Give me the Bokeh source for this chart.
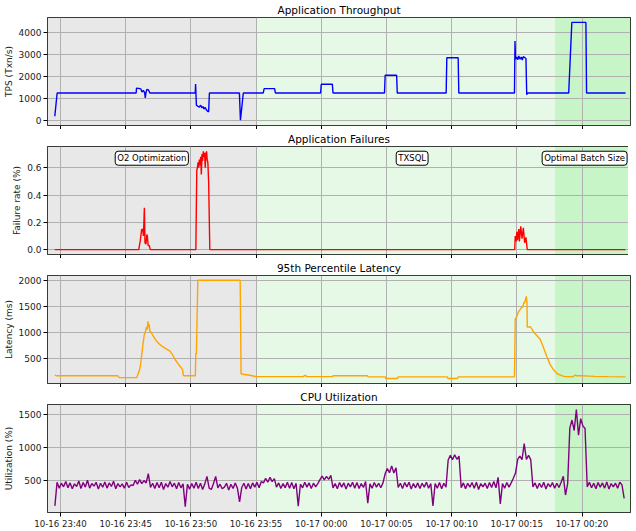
import datetime as dt
from bokeh.plotting import figure
from bokeh.models import (ColumnDataSource, BoxAnnotation, Label, FixedTicker,
                          DatetimeTickFormatter, Range1d, PrintfTickFormatter)
from bokeh.layouts import column
from bokeh.embed import file_html
from bokeh.resources import INLINE

# ---------------- data ----------------
# time reference (all minute offsets below are relative to this)
base_time = "2023-10-16 23:40:00"

# Application Throughput (TPS): minute offsets and values
tps_t = [-0.44, -0.26, 5.8, 5.83, 6.0, 6.15, 6.25, 6.35, 6.45, 6.5, 6.56, 6.62, 6.75, 6.85,
         10.33, 10.36, 10.42, 10.55, 10.65, 10.75, 10.85, 10.95, 11.0, 11.1, 11.2, 11.3, 11.36, 11.42,
         13.72, 13.8, 14.02, 15.55, 15.62, 16.42, 16.48, 19.95, 20.0, 20.85, 20.9,
         24.85, 24.9, 25.78, 25.83, 29.58, 29.63, 30.5, 30.55,
         34.82, 34.86, 34.9, 35.0, 35.08, 35.15, 35.25, 35.35, 35.42, 35.5, 35.6, 35.7, 35.76, 35.8,
         38.98, 39.22, 40.3, 40.35, 43.34]
tps_v = [200, 1260, 1260, 1480, 1470, 1450, 1300, 1380, 1280, 1030, 1300, 1420, 1400, 1260,
         1260, 1670, 700, 650, 620, 700, 580, 640, 520, 600, 480, 420, 400, 1260,
         1260, 20, 1260, 1260, 1460, 1460, 1260, 1260, 1660, 1660, 1260,
         1260, 2070, 2070, 1260, 1260, 2870, 2870, 1260,
         1260, 3630, 2800, 2900, 2780, 2950, 2800, 2900, 2760, 2920, 2880, 2830, 1180, 1260,
         1260, 4480, 4480, 1260, 1260]

# Application Failures (%)
fail_t = [-0.44, 6.0, 6.12, 6.22, 6.3, 6.36, 6.43, 6.48, 6.55, 6.62, 6.66, 6.72, 6.8, 6.89,
          10.38, 10.45, 10.5, 10.55, 10.6, 10.65, 10.7, 10.75, 10.8, 10.85, 10.9, 10.95, 11.0,
          11.05, 11.1, 11.15, 11.2, 11.25, 11.3, 11.36, 11.45,
          34.84, 34.88, 34.95, 35.0, 35.05, 35.15, 35.2, 35.3, 35.4, 35.5, 35.6, 35.7, 35.8, 43.34]
fail_v = [0.0, 0.0, 0.067, 0.147, 0.15, 0.1, 0.306, 0.05, 0.04, 0.11, 0.1, 0.03, 0.03, 0.0,
          0.0, 0.58, 0.6, 0.64, 0.6, 0.66, 0.62, 0.68, 0.55, 0.7, 0.65, 0.72, 0.68,
          0.71, 0.6, 0.7, 0.72, 0.66, 0.64, 0.5, 0.0,
          0.0, 0.1, 0.06, 0.13, 0.07, 0.15, 0.06, 0.17, 0.08, 0.16, 0.05, 0.09, 0.0, 0.0]

# 95th Percentile Latency (ms)
lat_t = [-0.44, -0.3, 4.4, 4.5, 5.85, 5.95, 6.05, 6.12, 6.22, 6.32, 6.42, 6.5, 6.6, 6.66, 6.7,
         6.76, 6.8, 6.86, 6.94, 7.1, 7.27, 7.5, 7.78, 8.1, 8.42, 8.55, 8.8, 9.0, 9.18, 9.36,
         9.42, 9.5, 10.34, 10.38, 10.42, 10.53, 13.78, 13.85, 14.0, 14.5, 15.0, 18.6, 18.76,
         18.9, 20.87, 20.9, 23.55, 23.6, 24.9, 24.95, 25.85, 25.9, 29.68, 29.72, 30.44, 30.5,
         34.82, 34.88, 35.0, 35.1, 35.2, 35.3, 35.4, 35.45, 35.55, 35.6, 35.68, 35.73, 35.78,
         35.8, 36.06, 36.3, 36.55, 36.8, 37.05, 37.3, 37.55, 37.83, 38.1, 38.35, 38.6, 39.0,
         39.3, 39.5, 39.6, 40.0, 40.5, 41.0, 42.0, 43.34]
lat_v = [175, 160, 160, 125, 125, 200, 260, 340, 550, 760, 950, 1000, 1100, 1050, 1210,
         1100, 1150, 1010, 1000, 930, 860, 790, 730, 680, 630, 580, 470, 400, 340, 280,
         170, 160, 160, 600, 580, 2000, 2000, 200, 190, 170, 145, 145, 170,
         145, 145, 160, 160, 140, 140, 107, 107, 140, 140, 107, 107, 140,
         140, 1250, 1300, 1380, 1420, 1450, 1500, 1480, 1580, 1560, 1650, 1690, 1580,
         1100, 1100, 1000, 930, 860, 700, 530, 380, 270, 200, 175, 150, 145,
         140, 175, 160, 160, 155, 150, 145, 140]

# CPU Utilization (%), one sample every 10 s starting at cpu_start
cpu_start = "2023-10-16 23:39:34"
cpu_step_s = 10
cpu_v = [110, 470, 380, 455, 400, 480,
         385, 460, 370, 445, 405, 490,
         375, 465, 395, 500, 380, 450,
         410, 470, 365, 455, 395, 475,
         380, 460, 405, 485, 370, 450,
         400, 445, 380, 470, 390, 430,
         420, 500, 440, 510, 450, 495,
         460, 600, 390, 455, 375, 465,
         385, 470, 360, 450, 395, 480,
         400, 455, 370, 465, 385, 445,
         95, 440, 365, 450, 380, 470,
         375, 455, 360, 445, 560, 380,
         360, 450, 560, 385, 440, 370,
         395, 455, 350, 440, 375, 460,
         380, 170, 390, 455, 365, 450,
         370, 460, 395, 470, 385, 480,
         460, 530, 470, 545, 480, 525,
         395, 460, 375, 450, 385, 470,
         380, 465, 370, 455, 105, 440,
         385, 470, 395, 460, 375, 455,
         400, 450, 510, 565, 505, 560,
         515, 575, 385, 450, 370, 465,
         395, 460, 365, 455, 400, 470,
         380, 465, 375, 450, 390, 480,
         150, 445, 380, 465, 395, 455,
         385, 460, 600, 680, 615, 720,
         610, 690, 390, 455, 375, 465,
         400, 470, 365, 450, 385, 460,
         375, 455, 395, 470, 380, 450,
         110, 450, 380, 465, 370, 455,
         395, 810, 880, 815, 890, 820,
         870, 385, 460, 370, 455, 395,
         465, 380, 470, 360, 450, 400,
         455, 375, 465, 390, 480, 385,
         545, 140, 450, 380, 465, 395,
         460, 530, 610, 820, 870, 815,
         1060, 820, 880, 815, 400, 460,
         375, 455, 390, 470, 365, 450,
         400, 465, 380, 455, 390, 470,
         560, 275, 450, 1300, 1420, 1260,
         1580, 1190, 1440, 1330, 1290, 400,
         470, 385, 455, 370, 465, 395,
         460, 380, 475, 365, 450, 400,
         455, 380, 470, 430, 223]

# phases (shaded spans) and annotations
phase_edges = ["2023-10-16 23:55:00", "2023-10-17 00:17:56"]
phase_colors = ["#e8e8e8", "#e6f8e6", "#c7f5c7"]
phase_labels = ["O2 Optimization", "TXSQL", "Optimal Batch Size"]
phase_label_t = [7.0, 26.97, 40.2]
phase_label_y = 0.67

x_ticks = ["2023-10-16 23:40", "2023-10-16 23:45", "2023-10-16 23:50", "2023-10-16 23:55",
           "2023-10-17 00:00", "2023-10-17 00:05", "2023-10-17 00:10", "2023-10-17 00:15",
           "2023-10-17 00:20"]
x_limits_t = [-1.0, 43.72]

# ---------------- helpers ----------------
EPOCH = dt.datetime(1970, 1, 1)
base = dt.datetime.strptime(base_time, "%Y-%m-%d %H:%M:%S")


def ms_dt(d):
    return (d - EPOCH).total_seconds() * 1000.0


def ms_off(m):
    return ms_dt(base + dt.timedelta(minutes=m))


def ms_str(s, fmt="%Y-%m-%d %H:%M:%S"):
    return ms_dt(dt.datetime.strptime(s, fmt))


cpu0 = dt.datetime.strptime(cpu_start, "%Y-%m-%d %H:%M:%S")
cpu_t_ms = [ms_dt(cpu0 + dt.timedelta(seconds=i * cpu_step_s)) for i in range(len(cpu_v))]

xr = Range1d(ms_off(x_limits_t[0]), ms_off(x_limits_t[1]))
tick_ms = [ms_str(s, "%Y-%m-%d %H:%M") for s in x_ticks]
edges_ms = [ms_str(s) for s in phase_edges]

FONT = "DejaVu Sans"


def make_fig(title, ylabel, yr, yticks, show_xlabels, frame_h):
    p = figure(x_axis_type="datetime", x_range=xr, y_range=Range1d(*yr),
               frame_width=583, frame_height=frame_h,
               min_border_left=41, min_border_right=4, min_border_top=0, min_border_bottom=0,
               toolbar_location=None, output_backend="svg", title=title)
    p.title.text_font = FONT
    p.title.text_font_size = "10.5px"
    p.title.text_font_style = "normal"
    p.title.align = "center"
    p.title.text_color = "black"
    p.title.standoff = 3
    p.outline_line_color = "black"
    p.outline_line_width = 1
    p.outline_line_alpha = 1
    p.background_fill_color = "white"
    for ax in p.axis:
        ax.axis_line_color = None
        ax.major_tick_out = 4
        ax.major_tick_in = 0
        ax.minor_tick_out = 0
        ax.minor_tick_in = 0
        ax.major_tick_line_color = "black"
        ax.major_label_text_font = FONT
        ax.major_label_text_font_size = "9px"
        ax.major_label_text_color = "#222222"
    p.yaxis.ticker = FixedTicker(ticks=yticks)
    p.yaxis.axis_label = ylabel
    p.yaxis.axis_label_text_font = FONT
    p.yaxis.axis_label_text_font_size = "9px"
    p.yaxis.axis_label_text_font_style = "normal"
    p.yaxis.axis_label_text_color = "#222222"
    p.yaxis.axis_label_standoff = 2
    p.yaxis.major_label_standoff = 2
    p.xaxis.ticker = FixedTicker(ticks=tick_ms)
    p.xaxis.formatter = DatetimeTickFormatter(
        seconds="%m-%d %H:%M", minsec="%m-%d %H:%M", minutes="%m-%d %H:%M",
        hourmin="%m-%d %H:%M", hours="%m-%d %H:%M", days="%m-%d %H:%M")
    if show_xlabels:
        p.xaxis.major_label_standoff = 2
        p.xaxis.major_label_text_font_size = "8.6px"
    else:
        p.xaxis.major_label_overrides = {t: "" for t in tick_ms}
        p.xaxis.major_label_text_font_size = "0px"
        p.xaxis.major_label_standoff = 0
    p.grid.grid_line_color = "#b0b0b0"
    p.grid.grid_line_width = 1
    # shaded phases, below grid
    p.add_layout(BoxAnnotation(right=edges_ms[0], fill_color=phase_colors[0], fill_alpha=1,
                               line_alpha=0, level="image"))
    p.add_layout(BoxAnnotation(left=edges_ms[0], right=edges_ms[1], fill_color=phase_colors[1],
                               fill_alpha=1, line_alpha=0, level="image"))
    p.add_layout(BoxAnnotation(left=edges_ms[1], fill_color=phase_colors[2], fill_alpha=1,
                               line_alpha=0, level="image"))
    return p


p1 = make_fig("Application Throughput", "TPS (Txn/s)", (-224, 4704),
              [0, 1000, 2000, 3000, 4000], False, 108)
p1.line(x="t", y="v", source=ColumnDataSource(dict(t=[ms_off(m) for m in tps_t], v=tps_v)),
        line_color="#0000ff", line_width=1.4)

p2 = make_fig("Application Failures", "Failure rate (%)", (-0.036, 0.756),
              [0.0, 0.2, 0.4, 0.6], False, 108)
p2.yaxis.formatter = PrintfTickFormatter(format="%.1f")
p2.line(x="t", y="v", source=ColumnDataSource(dict(t=[ms_off(m) for m in fail_t], v=fail_v)),
        line_color="#ff0000", line_width=1.4)
for txt, tm in zip(phase_labels, phase_label_t):
    p2.add_layout(Label(x=ms_off(tm), y=phase_label_y, text=txt, text_align="center",
                        text_baseline="middle", text_font=FONT, text_font_size="8.5px",
                        text_color="black",
                        background_fill_color="white", background_fill_alpha=1,
                        border_line_color="black", border_line_width=1,
                        padding=2, border_radius=3))

p3 = make_fig("95th Percentile Latency", "Latency (ms)", (12, 2092),
              [500, 1000, 1500, 2000], False, 108)
p3.line(x="t", y="v", source=ColumnDataSource(dict(t=[ms_off(m) for m in lat_t], v=lat_v)),
        line_color="#ffa500", line_width=1.4)

p4 = make_fig("CPU Utilization", "Utilization (%)", (8, 1657),
              [500, 1000, 1500], True, 108)
p4.line(x="t", y="v", source=ColumnDataSource(dict(t=cpu_t_ms, v=cpu_v)),
        line_color="#800080", line_width=1.4)

layout = column(p1, p2, p3, p4, spacing=0)
open("out.html", "w").write(file_html(layout, INLINE))
